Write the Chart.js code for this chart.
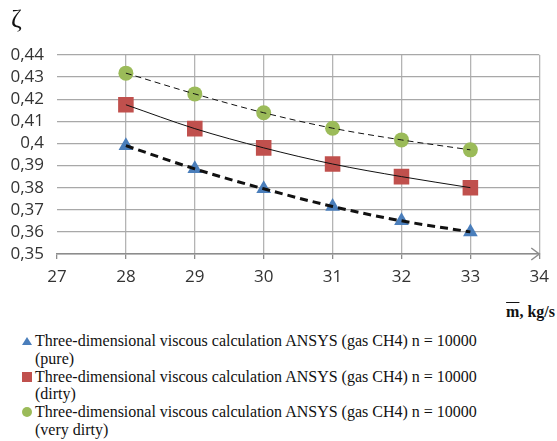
<!DOCTYPE html>
<html>
<head>
<meta charset="utf-8">
<script src="https://cdn.jsdelivr.net/npm/chart.js@4/dist/chart.umd.min.js"></script>
<style>
  body { margin: 0; background: #fff; width: 557px; height: 441px; overflow: hidden; position: relative; }
  #wrap { position: absolute; left: 0; top: 0; width: 557px; height: 300px; }
  .zeta { position: absolute; left: 11px; top: 4px; font: 26px "Liberation Serif", "DejaVu Serif", serif; color: #111; }
  .xtitle { position: absolute; right: 2px; top: 303px; font: bold 16px "Liberation Serif", serif; color: #111; }
  .xtitle .m { text-decoration: overline; }
  .legend { position: absolute; left: 0; top: 332px; font: 16px "Liberation Serif", serif; color: #111; line-height: 17.75px; }
  .item { position: relative; padding-left: 35px; }
  .item svg { position: absolute; left: 21px; top: 3px; }
</style>
</head>
<body>
<div id="wrap"><canvas id="chart" width="557" height="300"></canvas></div>
<div class="zeta">ζ</div>
<div class="xtitle"><span class="m">m</span>, kg/s</div>
<div class="legend">
  <div class="item"><svg width="12" height="12"><polygon points="6,2 11,10 1,10" fill="#4a7ebb"/></svg>Three-dimensional viscous calculation ANSYS (gas CH4) n = 10000<br>(pure)</div>
  <div class="item"><svg width="12" height="12"><rect x="1" y="1" width="10" height="10" fill="#c0504d"/></svg>Three-dimensional viscous calculation ANSYS (gas CH4) n = 10000<br>(dirty)</div>
  <div class="item"><svg width="12" height="12"><circle cx="6" cy="6" r="5" fill="#9bbb59"/></svg>Three-dimensional viscous calculation ANSYS (gas CH4) n = 10000<br>(very dirty)</div>
</div>
<script>
// mass flow, kg/s
const massFlow = [28, 29, 30, 31, 32, 33];
// loss coefficient zeta for each case
const zetaPure = [0.399, 0.3885, 0.3795, 0.3715, 0.365, 0.36];
const zetaDirty = [0.4175, 0.4067, 0.398, 0.3907, 0.385, 0.380];
const zetaVeryDirty = [0.4318, 0.4224, 0.4139, 0.4069, 0.4016, 0.3971];

const xTicks = [27, 28, 29, 30, 31, 32, 33, 34];
const yTicks = [0.35, 0.36, 0.37, 0.38, 0.39, 0.40, 0.41, 0.42, 0.43, 0.44];

const toXY = (ys) => massFlow.map((x, i) => ({ x: x, y: ys[i] }));

const markerSet = (label, ys, style, color, radius) => ({
    label: label,
    data: toXY(ys),
    showLine: false,
    pointStyle: style,
    pointRadius: radius,
    pointHoverRadius: radius,
    pointBackgroundColor: color,
    pointBorderColor: color,
    pointBorderWidth: 0,
    order: 2
});

const trendSet = (ys, width, dash) => ({
    data: toXY(ys),
    showLine: true,
    pointRadius: 0,
    borderColor: '#111',
    borderWidth: width,
    borderDash: dash,
    cubicInterpolationMode: 'monotone',
    order: 1
});

// arrow at the end of the x axis
const axisArrow = {
    id: 'axisArrow',
    afterDraw(chart) {
        const { ctx, chartArea } = chart;
        const x = chartArea.right, y = chartArea.bottom;
        ctx.save();
        ctx.strokeStyle = '#8c8c8c';
        ctx.lineWidth = 1.5;
        ctx.beginPath();
        ctx.moveTo(x - 8, y - 6);
        ctx.lineTo(x, y);
        ctx.lineTo(x - 8, y + 6);
        ctx.stroke();
        ctx.restore();
    }
};

const ctx = document.getElementById('chart').getContext('2d');

new Chart(ctx, {
    type: 'scatter',
    data: {
        datasets: [
            markerSet('pure', zetaPure, 'triangle', '#4a7ebb', 8.5),
            markerSet('dirty', zetaDirty, 'rect', '#c0504d', 11),
            markerSet('very dirty', zetaVeryDirty, 'circle', '#9bbb59', 7.5),
            trendSet(zetaPure, 3, [8, 5]),
            trendSet(zetaDirty, 1, []),
            trendSet(zetaVeryDirty, 1, [6, 4])
        ]
    },
    options: {
        responsive: false,
        animation: false,
        layout: { padding: { top: 55, right: 11, left: 0, bottom: 0 } },
        plugins: {
            legend: { display: false },
            tooltip: { enabled: false }
        },
        scales: {
            x: {
                type: 'linear',
                min: 27,
                max: 34,
                afterBuildTicks: (scale) => { scale.ticks = xTicks.map(v => ({ value: v })); },
                afterFit: (scale) => { scale.height = 46; },
                grid: {
                    color: (c) => c.tick && c.tick.value === 27 ? 'rgba(0,0,0,0)' : '#b4b4b4',
                    tickColor: '#8c8c8c',
                    tickLength: 5,
                    lineWidth: 1.3
                },
                border: { display: true, color: '#8c8c8c', width: 1.5 },
                ticks: {
                    autoSkip: false,
                    padding: 8,
                    color: '#333',
                    font: { family: 'Open Sans', size: 17 },
                    callback: (v) => String(v)
                }
            },
            y: {
                min: 0.35,
                max: 0.44,
                afterBuildTicks: (scale) => { scale.ticks = yTicks.map(v => ({ value: v })); },
                afterFit: (scale) => { scale.width = 57; },
                grid: { color: '#a8a8a8', lineWidth: 1.3, drawTicks: false },
                border: { display: false },
                ticks: {
                    autoSkip: false,
                    padding: 13,
                    color: '#333',
                    font: { family: 'Open Sans', size: 17 },
                    callback: (v) => String(Number(v.toFixed(2))).replace('.', ',')
                }
            }
        }
    },
    plugins: [axisArrow]
});
</script>
</body>
</html>
